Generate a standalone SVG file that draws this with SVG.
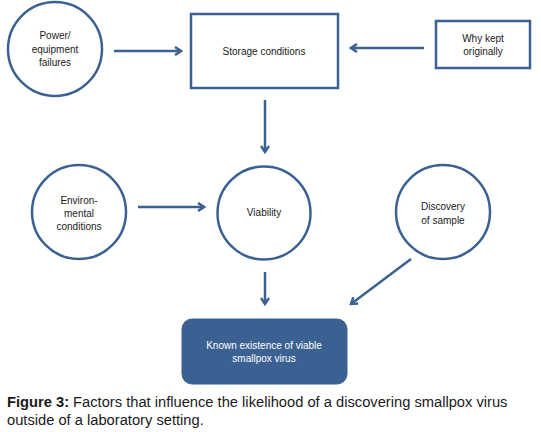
<svg xmlns="http://www.w3.org/2000/svg" width="541" height="432" viewBox="0 0 541 432">
<style>
.n{fill:#fff;stroke:#3B6192;stroke-width:2.5}
.t{font-family:"Liberation Sans",Arial,sans-serif;font-size:10px;fill:#1a1a1a;text-anchor:middle}
.w{fill:#fff}
.c{stroke:#3B6192;stroke-width:2.5;fill:none;marker-end:url(#ah)}
.cap{font-family:"Liberation Sans",Arial,sans-serif;font-size:14.7px;fill:#1a1a1a}
</style>
<defs>
<marker id="ah" markerWidth="10" markerHeight="10" viewBox="0 0 10 10" refX="8" refY="5" orient="auto" markerUnits="userSpaceOnUse">
<path d="M2,1 L8,5 L2,9" fill="none" stroke="#3B6192" stroke-width="2.5" stroke-linejoin="miter"/>
</marker>
</defs>
<rect width="541" height="432" fill="#fff"/>
<g id="connectors">
<line class="c" x1="114" y1="51" x2="181" y2="51"/>
<line class="c" x1="424" y1="48" x2="351" y2="48"/>
<line class="c" x1="265" y1="100" x2="265" y2="152"/>
<line class="c" x1="138" y1="207" x2="204" y2="207"/>
<line class="c" x1="265" y1="272" x2="265" y2="304"/>
<line class="c" x1="411" y1="259" x2="351" y2="304"/>
</g>
<g id="power">
<circle class="n" cx="55" cy="49" r="47"/>
<text class="t" x="55" y="39">Power/</text>
<text class="t" x="55" y="53">equipment</text>
<text class="t" x="55" y="66">failures</text>
</g>
<g id="storage">
<rect class="n" x="191" y="14" width="147" height="74"/>
<text class="t" x="264" y="55">Storage conditions</text>
</g>
<g id="whykept">
<rect class="n" x="436" y="21" width="94" height="47"/>
<text class="t" x="483" y="42">Why kept</text>
<text class="t" x="483" y="55">originally</text>
</g>
<g id="environmental">
<circle class="n" cx="79" cy="212" r="47"/>
<text class="t" x="79" y="204">Environ-</text>
<text class="t" x="79" y="217">mental</text>
<text class="t" x="79" y="230">conditions</text>
</g>
<g id="viability">
<circle class="n" cx="264" cy="213" r="46.5"/>
<text class="t" x="264" y="216">Viability</text>
</g>
<g id="discovery">
<circle class="n" cx="443" cy="212" r="47"/>
<text class="t" x="443" y="210">Discovery</text>
<text class="t" x="443" y="224">of sample</text>
</g>
<g id="known">
<rect x="182" y="319" width="165" height="65" rx="10" fill="#3B6192" stroke="#3B6192" stroke-width="1"/>
<text class="t w" x="264" y="349">Known existence of viable</text>
<text class="t w" x="264" y="362">smallpox virus</text>
</g>
<g id="caption">
<text class="cap" x="7" y="407"><tspan font-weight="bold">Figure 3:</tspan> Factors that influence the likelihood of a discovering smallpox virus</text>
<text class="cap" x="7" y="425">outside of a laboratory setting.</text>
</g>
</svg>
